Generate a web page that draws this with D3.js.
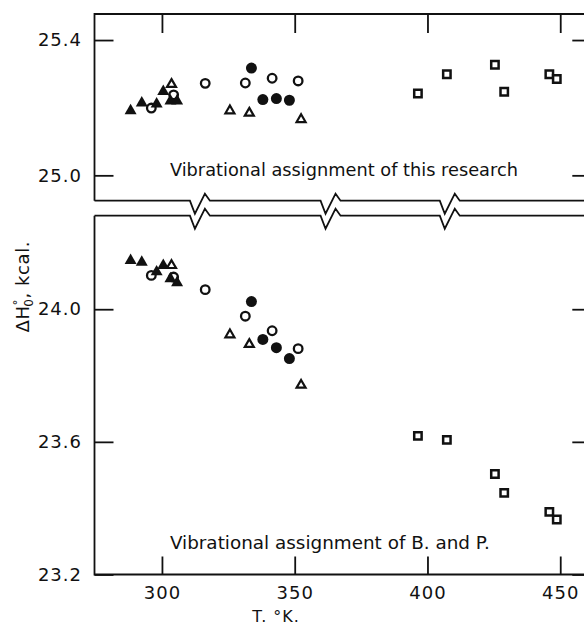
<!DOCTYPE html>
<html>
<head>
<meta charset="utf-8">
<script src="https://cdn.jsdelivr.net/npm/d3@7"></script>
<style>
  body { margin: 0; background: #fff; }
  svg text { font-family: "DejaVu Sans", sans-serif; fill: #111; }
</style>
</head>
<body>
<div id="chart"></div>
<script>
// temperatures (°K) of each run series, same in both panels
const filledTriT = [288.2, 292.4, 298.0, 300.5, 303.2, 305.7];
const openCircT = [296.0, 304.4, 316.3, 331.4, 341.5, 351.3];
const filledCircT = [333.7, 338.0, 343.1, 348.0];
const openTriT = [303.6, 325.6, 332.9, 352.4];
const squareT = [396.4, 407.3, 425.4, 428.9, 445.9, 448.7];

// ΔH°0 (kcal) with the vibrational assignment of this research
const filledTriTop = [25.196, 25.219, 25.216, 25.253, 25.225, 25.225];
const openCircTop = [25.199, 25.238, 25.272, 25.273, 25.287, 25.279];
const filledCircTop = [25.317, 25.224, 25.227, 25.222];
const openTriTop = [25.273, 25.195, 25.188, 25.169];
const squareTop = [25.242, 25.299, 25.327, 25.247, 25.299, 25.285];

// ΔH°0 (kcal) with the vibrational assignment of B. and P.
const filledTriBot = [24.152, 24.147, 24.118, 24.137, 24.097, 24.085];
const openCircBot = [24.102, 24.097, 24.059, 23.979, 23.935, 23.881];
const filledCircBot = [24.023, 23.909, 23.884, 23.851];
const openTriBot = [24.136, 23.927, 23.898, 23.775];
const squareBot = [23.618, 23.606, 23.503, 23.446, 23.389, 23.366];

const xTicks = [300, 350, 400, 450];
const topTicks = [25.0, 25.4];
const botTicks = [23.2, 23.6, 24.0];
const breakT = [314.3, 363.5, 408.4];

class BrokenAxisChart {
  constructor(el) {
    this.el = el;
    this._setup();
    this._scaffold();
    this._render();
  }

  _setup() {
    this.width = 584;
    this.height = 625;
    this.x = d3.scaleLinear().domain([274.6, 461.7]).range([94.5, 591.3]);
    this.yTop = d3.scaleLinear().domain([24.925, 25.477]).range([200.7, 14]);
    this.yBot = d3.scaleLinear().domain([23.2, 24.282]).range([574.5, 215.7]);
    this.tick = 19;
  }

  _scaffold() {
    d3.select(this.el).selectAll("*").remove();
    this.svg = d3
      .select(this.el)
      .append("svg")
      .attr("width", this.width)
      .attr("height", this.height);
  }

  // zigzag line across the panel edge, with the break marks
  _edge(y) {
    const p = d3.path();
    const x0 = this.x.range()[0];
    p.moveTo(x0, y);
    breakT.forEach((t) => {
      const bx = this.x(t);
      p.lineTo(bx - 10, y);
      p.lineTo(bx - 5, y + 13);
      p.lineTo(bx + 5, y - 7);
      p.lineTo(bx + 10, y);
    });
    p.lineTo(this.width + 10, y);
    return p.toString();
  }

  _axes(g, y, ticks, labels) {
    const fmt = d3.format(".1f");
    g.append("g")
      .attr("transform", `translate(${this.x.range()[0]},0)`)
      .call(
        d3.axisLeft(y).tickValues(ticks).tickSize(-this.tick).tickPadding(12.5)
          .tickFormat(labels ? fmt : "")
      );
    g.append("g")
      .attr("transform", `translate(${this.x.range()[1]},0)`)
      .call(d3.axisRight(y).tickValues(ticks).tickSize(-this.tick).tickFormat(""));
  }

  _triangle(cx, cy, s) {
    const h = (s * Math.sqrt(3)) / 2;
    return `M${cx},${cy - h / 2}L${cx + s / 2},${cy + h / 2}L${cx - s / 2},${cy + h / 2}Z`;
  }

  _markers(g, y, sets) {
    const x = this.x;
    const draw = (tArr, vArr, kind) => {
      const pts = tArr.map((t, i) => ({ t, v: vArr[i] }));
      const sel = g.append("g").selectAll("path").data(pts).join("path");
      if (kind === "openCirc") {
        sel.attr("d", (d) => { const p = d3.path(); p.arc(x(d.t), y(d.v), 4.3, 0, 2 * Math.PI); return p.toString(); })
          .attr("fill", "#fff").attr("stroke", "#111").attr("stroke-width", 2.3);
      } else if (kind === "filledCirc") {
        sel.attr("d", (d) => { const p = d3.path(); p.arc(x(d.t), y(d.v), 5.5, 0, 2 * Math.PI); return p.toString(); })
          .attr("fill", "#111");
      } else if (kind === "openTri") {
        sel.attr("d", (d) => this._triangle(x(d.t), y(d.v), 9))
          .attr("fill", "#fff").attr("stroke", "#111").attr("stroke-width", 2.2)
          .attr("stroke-linejoin", "miter");
      } else if (kind === "filledTri") {
        sel.attr("d", (d) => this._triangle(x(d.t), y(d.v), 12)).attr("fill", "#111");
      } else {
        sel.attr("d", (d) => { const cx = x(d.t), cy = y(d.v); return `M${cx - 3.7},${cy - 3.7}h7.4v7.4h-7.4Z`; })
          .attr("fill", "#fff").attr("stroke", "#111").attr("stroke-width", 2.5);
      }
    };
    draw(openCircT, sets.openCirc, "openCirc");
    draw(openTriT, sets.openTri, "openTri");
    draw(filledCircT, sets.filledCirc, "filledCirc");
    draw(filledTriT, sets.filledTri, "filledTri");
    draw(squareT, sets.square, "square");
  }

  _render() {
    const svg = this.svg;
    const x = this.x;
    const x0 = x.range()[0];
    const frame = svg.append("g").attr("fill", "none").attr("stroke", "#111").attr("stroke-width", 1.8);

    // top panel
    const yT = this.yTop;
    frame.append("path").attr("d", `M${x0},${yT.range()[0]}V${yT.range()[1]}H${this.width + 10}`);
    frame.append("path").attr("d", this._edge(yT.range()[0]));
    const gTop = svg.append("g");
    this._axes(gTop, yT, topTicks, true);
    gTop.append("g")
      .attr("transform", `translate(0,${yT.range()[1]})`)
      .call(d3.axisTop(x).tickValues(xTicks).tickSize(-this.tick).tickFormat(""));

    // bottom panel
    const yB = this.yBot;
    frame.append("path").attr("d", this._edge(yB.range()[1]));
    frame.append("path").attr("d", `M${x0},${yB.range()[1]}V${yB.range()[0]}H${this.width + 10}`);
    const gBot = svg.append("g");
    this._axes(gBot, yB, botTicks, true);
    gBot.append("g")
      .attr("transform", `translate(0,${yB.range()[0]})`)
      .call(d3.axisBottom(x).tickValues(xTicks).tickSize(-18).tickPadding(12));

    svg.selectAll(".domain").remove();
    svg.selectAll(".tick line").attr("stroke", "#111").attr("stroke-width", 1.8);
    svg.selectAll(".tick text")
      .attr("font-size", 18)
      .attr("letter-spacing", 1)
      .attr("fill", "#111");

    this._markers(svg.append("g"), yT, {
      openCirc: openCircTop, openTri: openTriTop, filledCirc: filledCircTop,
      filledTri: filledTriTop, square: squareTop,
    });
    this._markers(svg.append("g"), yB, {
      openCirc: openCircBot, openTri: openTriBot, filledCirc: filledCircBot,
      filledTri: filledTriBot, square: squareBot,
    });

    // panel captions
    svg.append("text")
      .attr("x", x(303)).attr("y", yT(25.0) + 1)
      .attr("font-size", 17)
      .attr("textLength", 348).attr("lengthAdjust", "spacingAndGlyphs")
      .text("Vibrational assignment of this research");
    svg.append("text")
      .attr("x", x(303)).attr("y", yB(23.277))
      .attr("font-size", 17)
      .attr("textLength", 320).attr("lengthAdjust", "spacingAndGlyphs")
      .text("Vibrational assignment of B. and P.");

    // axis titles
    svg.append("text")
      .attr("x", x(343)).attr("y", 622)
      .attr("text-anchor", "middle")
      .attr("font-size", 16)
      .attr("letter-spacing", 1)
      .text("T. °K.");

    const yl = svg.append("text")
      .attr("transform", `translate(29,${yB(24.068)}) rotate(-90)`)
      .attr("text-anchor", "middle")
      .attr("font-size", 18)
      .attr("letter-spacing", 0.6);
    yl.append("tspan").text("ΔH");
    yl.append("tspan").attr("font-size", 12).attr("dy", -7).text("°");
    yl.append("tspan").attr("font-size", 12).attr("dx", -8).attr("dy", 11).text("0");
    yl.append("tspan").attr("dy", -4).text(", kcal.");
  }
}

new BrokenAxisChart(document.getElementById("chart"));
</script>
</body>
</html>
